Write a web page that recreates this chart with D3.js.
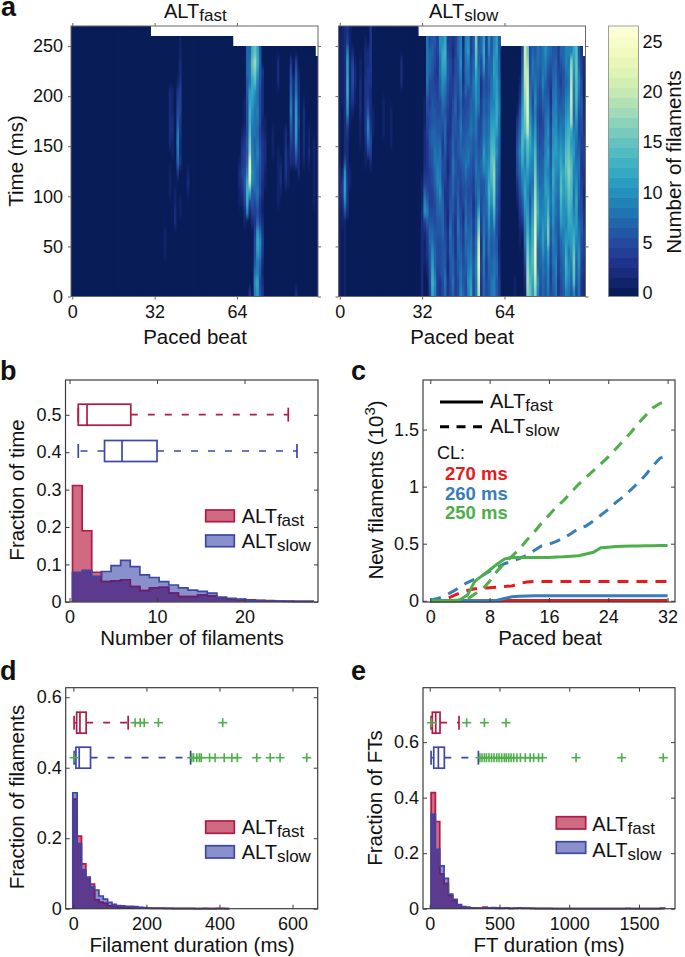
<!DOCTYPE html>
<html><head><meta charset="utf-8">
<script src="https://cdnjs.cloudflare.com/ajax/libs/d3/7.8.5/d3.min.js"></script>
<style>
html,body{margin:0;padding:0;background:#fff}
svg{display:block}
text{font-family:"Liberation Sans",Arial,sans-serif;fill:#111}
</style></head><body>
<svg id="c" width="685" height="957"></svg>
<script>
// ---------- data ----------
const beatTicks=[0,32,64];
const timeTicks=[0,50,100,150,200,250];
const colorTicks=[0,5,10,15,20,25];
const topLimits=[[30,270],[62,260],[94,250],[95,240]];
// Heatmap columns: base-36 counts, bottom row (t=0) first, 10 ms per character
const fastColumns=[
[36,"000011100"],[38,"00000000001110022222200"],[39,"000000000000001122111"],
[40,"0000000221100000"],[41,"0000000000003789865431"],[42,"0000000011000322334443221111"],
[45,"00000000001210"],[65,"000000000112210"],[66,"00000000012343321000"],
[67,"00000001245654432111000"],[68,"000000009cdc97665555667776"],
[69,"3000000025cknmhgeddcb8887"],[70,"000000024669a99889abccefd"],
[71,"9a865543457888778889aegif"],[72,"bc99bcb757877898789889bdc"],
[73,"65679a8433555665455556676"],[74,"32123432112233332122223"],
[75,"0000000000011222110000000"],[78,"00000000000000111"],
[80,"000000000111111000000222"],[81,"00000000001221"],[83,"00000000000233322"],
[84,"0000000000011110"],[85,"000000000000023467987653"],[86,"0000000000000223333322"],
[87,"200000000000047abbba8764"],[88,"00000000000022333433221"],[90,"00000000000001222221"],
[92,"00000000000001211"],[94,"0000000001111111"]];
const slowColumns=[
"111111111222211111111111111","000000011233100000011111111","11111111" +"59bba5"+"2222222222222",
"00000000"+"233322"+"223"+"6abccbb943","000000000001100001122222111","000000000000000000134554200",
"000000000000000000011221000","0","000000000000000111222211000","0","000000000000011233333322210",
"00000000000000"+"47996"+"43332200","0000000000000"+"24543"+"222333333","000000000000000011100000000",
"0","0","0","000000000000000011110","0","0","000000000000000111100","0","0","0",
"000000000000000000000222","0","0","0","0","0","0","0",
"22222222211100000000000000","00011124a97432222111000000","00123346975433334455788888",
"45566776544445566554557775","cdcba876544556677666556676","9a877665556778877665544556",
"44455566778998776655443344","3355556678a98887665577889a","556666777765554456789abcca",
"7876655443345567776789bcdc","33223332233322333445566654","55667787665544443333445544",
"78776655667788776655443323","44443333445566556677665544","55667788776655665544556677",
"98877665544556778877889a99","76655443355667766554433332","55667788776688776655778899",
"9a9887766556688776655889ba","cba98877665566778877665544","55665544334455667777887766",
"8899887766778877889aabcefg","jklmlkhfc98776655578888776","33443344556677665544335577",
"7788998877669ab98877669bcb","55445566778899887766555544","6677889abcdcba99887766779a",
"887766778abdefedcba9887766","9988778bdfghhgedcba9aabba9","66776655667788a9bcccbbaabb",
"44332233445566778899887766","0","0","0","0","0","11","0000000001235565431",
"0000011234567898765321","000000135689acdedcba98765","12356889abcba9abefghijkkl",
"hiihgfdcba9abdefjlmmmlkig","fedcba9876789abccba987655","bcdeeddcba9899a9876567887",
"hjlmnnmlkjihgfecba9a98776","9a8778abcba98776655667788","5667788998877665544556677",
"7788abba99887766556789888","6677889aaabbaa9988776789a","899abfgfdcba9ab9a98765678",
"5445566778877665544334567","6778899aabbccbbaa99887766","889988778899aabbaa9988776",
"3344556677889aa9877665544","5566779bcdeedcba987654567","6778899aaabbcaa9887766677",
"9bcdcba9abcdefedcba987899","89a98abcdefghgfedcba98989","6789abbccdeefecbcijkkjih9",
"9efgfdca98899aba987889abc","567789abbcba98789acdeeffe","889aa98766778876556789876",
"3344556655443344556655443","223344433223344433221122"];
const colorLevels=d3.range(0,27);

// panel b
const countTicksX=[0,10,20], countTicksY=[0,.1,.2,.3,.4,.5];
const countFast=[.311,.19,.079,.054,.056,.059,.041,.03,.037,.039,.023,.014,.014,.018,.016,.012,.008,.006,.005,.004,.003,.002,.002,.001,.001];
const countSlow=[.079,.084,.068,.081,.097,.111,.094,.072,.065,.054,.045,.037,.031,.028,.023,.012,.009,.007,.004,.003,.002,.002,.001,.001,.001];
const countBoxFast=[1,1,2,7,25], countBoxSlow=[1,4,6,10,26];

// panel c
const beatC=[0,1,2,3,4,5,6,7,8,9,10,11,12,13,14,15,16,17,18,19,20,21,22,23,24,25,26,27,28,29,30,31,32];
const fast270=[0,0,0,0,0,0,0,0,0,.001,.002,.002,.003,.003,.003,.003,.003,.003,.003,.003,.003,.003,.003,.003,.003,.003,.003,.003,.003,.003,.003,.003,.003];
const fast260=[0,0,0,0,0,0,0,0,0,.005,.02,.035,.04,.043,.045,.045,.045,.045,.045,.045,.045,.045,.045,.045,.045,.045,.045,.045,.045,.045,.045,.045,.045];
const fast250=[0,0,0,0,.01,.05,.17,.22,.27,.32,.365,.38,.38,.38,.38,.38,.38,.383,.385,.39,.395,.41,.425,.465,.47,.475,.478,.48,.48,.482,.483,.484,.485];
const slow270=[0,0,.01,.04,.07,.09,.105,.11,.115,.118,.125,.13,.15,.165,.17,.17,.17,.17,.17,.17,.17,.17,.17,.17,.17,.17,.17,.17,.17,.17,.17,.17,.17];
const slow260=[.005,.02,.045,.08,.12,.16,.19,.22,.26,.29,.325,.345,.37,.4,.44,.48,.495,.52,.55,.59,.635,.655,.7,.75,.8,.86,.91,.97,1.03,1.1,1.18,1.25,1.27];
const slow250=[0,0,0,0,0,.015,.06,.1,.17,.26,.33,.39,.45,.53,.6,.68,.75,.82,.88,.95,1.02,1.08,1.14,1.2,1.26,1.33,1.4,1.47,1.55,1.62,1.69,1.73,1.75];
const newTicksX=[0,8,16,24,32], newTicksY=[0,.5,1,1.5];

// panel d
const filTicksX=[0,200,400,600], filTicksY=[0,.2,.4,.6];
const filFast=[.31,.206,.127,.09,.07,.025,.018,.015,.008,.007,.005,.004,.003,.002,.002,.003,.002,.002,.001,.001,.001,.001,.001,0,0,0,0,0,0,0,0,0,0,.001,.001,0];
const filSlow=[.329,.185,.11,.086,.062,.053,.036,.027,.018,.012,.009,.008,.007,.007,.006,.004,.003,.002,.002,.002,.002,.001,.001,.001,.001,.001,.001,.001,0,0,.001,0,0,0,0,0];
const filBoxFast=[2,9,18,35,150], filBoxSlow=[2,7,16,47,321];
const filOutFast=[169,183,194,233,409];
const filOutSlow=[2,324,329,338,345,350,373,388,413,434,449,502,539,566,639];

// panel e
const ftTicksX=[0,500,1000,1500], ftTicksY=[0,.2,.4,.6];
const ftFast=[.418,.314,.125,.09,.048,.03,.015,.008,.006,.003,.002,.002,.006,.002,.002,.001,.001,.003,.001,.001,.003,.001,.001,.001,0,0,0,0,0,0,0,0,0,0,0,0,0,0,0,0,0,0,0,0,0,0,0,0,0,0,0,0,0,0];
const ftSlow=[.341,.214,.154,.109,.053,.034,.013,.006,.003,.003,.002,.002,.002,.003,.004,.003,.002,.002,.001,.002,.002,.002,.002,.001,.001,.001,.001,.001,0,0,0,0,0,0,0,0,0,0,0,0,0,0,0,0,0,.001,0,0,0,0,0,0,0,.002];
const ftBoxFast=[10,19,43,74,210], ftBoxSlow=[10,29,62,105,349];
const ftOutFast=[14,265,392,547];
const ftOutSlow=[360,375,392,407,425,443,461,480,497,516,535,549,566,583,602,625,650,685,720,745,780,808,1049,1376,1674];

const RED="#b01a45", BLUE="#3d47a5", GREEN="#4daf4a";
const LR="#e41a1c", LB="#377eb8";
const FASTFILL="#cf6a82", SLOWFILL="#8a90cc", OVER="#5c3a8e", DARKRED="#5a2578";
const FRAME="#3c3c3c";

// ---------- helpers ----------
const svg=d3.select("#c");
const defs=svg.append("defs");
const TICK=18, LABEL=20.5;
let uid=0;
const heatColor=v=>d3.interpolateYlGnBu(1-v/26*.985);

function altText(g,x,y,kind,fs,anchor){
  const t=g.append("text").attr("x",x).attr("y",y).attr("font-size",fs||20).attr("text-anchor",anchor||"start");
  t.append("tspan").text("ALT");
  t.append("tspan").attr("dy",3).attr("font-size",(fs||20)*.85).text(kind);
  return t;
}
function frame(x0,x1,y0,y1,color,w){
  svg.append("rect").attr("x",x0).attr("y",y0).attr("width",x1-x0).attr("height",y1-y0)
    .attr("fill","none").attr("stroke",color||FRAME).attr("stroke-width",w||1.2);
}
function axes(x,y,xt,yt,opt){
  opt=opt||{};
  const inner=opt.tick===undefined?-4:opt.tick, col=opt.color||FRAME;
  const x0=x.range()[0],x1=x.range()[1],y0=y.range()[1],y1=y.range()[0];
  const style=(g,fs)=>{g.select(".domain").remove();g.selectAll("line").attr("stroke",col).attr("stroke-width",1);
    g.selectAll("text").attr("font-size",fs).attr("font-family",'"Liberation Sans",Arial,sans-serif').attr("fill","#111");};
  svg.append("g").attr("transform",`translate(0,${y1})`)
    .call(d3.axisBottom(x).tickValues(xt).tickSize(inner).tickPadding(opt.padB===undefined?8.5:opt.padB).tickFormat(d=>d))
    .call(g=>style(g,TICK));
  svg.append("g").attr("transform",`translate(0,${y0})`)
    .call(d3.axisTop(x).tickValues(xt).tickSize(inner).tickFormat(""))
    .call(g=>style(g,TICK));
  if(!opt.noY) svg.append("g").attr("transform",`translate(${x0},0)`)
    .call(d3.axisLeft(y).tickValues(yt).tickSize(inner).tickPadding(opt.padL===undefined?4:opt.padL).tickFormat(d=>d))
    .call(g=>style(g,TICK));
  else svg.append("g").attr("transform",`translate(${x0},0)`)
    .call(d3.axisLeft(y).tickValues(yt).tickSize(inner).tickFormat(""))
    .call(g=>style(g,TICK));
  svg.append("g").attr("transform",`translate(${x1},0)`)
    .call(d3.axisRight(y).tickValues(yt).tickSize(inner).tickFormat(""))
    .call(g=>style(g,TICK));
}
function xLabel(t,x,y){svg.append("text").attr("x",x).attr("y",y).attr("text-anchor","middle").attr("font-size",LABEL).text(t);}
function yLabel(t,x,y){return svg.append("text").attr("transform",`translate(${x},${y}) rotate(-90)`).attr("text-anchor","middle").attr("font-size",LABEL).text(t);}
function panel(t,x,y){svg.append("text").attr("x",x).attr("y",y).attr("font-size",27).attr("font-weight","bold").text(t);}

function heat(columnValue,x,y,yBottom){
  const id="h"+(++uid);
  const limit=c=>topLimits.find(l=>c<=l[0])[1];
  const cells=[];
  d3.range(96).forEach(c=>{
    const s=columnValue(c);
    d3.range(limit(c)/10).forEach(r=>{
      const ch=s[r]||"0";
      cells.push({c,r,v:parseInt(ch,36)});
    });
  });
  const outline=d3.area().x(c=>x(c-.5)).y0(yBottom).y1(c=>y(limit(Math.min(c,95)))).curve(d3.curveStepAfter);
  defs.append("clipPath").attr("id",id).append("path").attr("d",outline(d3.range(97)));
  const draw=g=>g.selectAll("rect").data(cells).join("rect")
    .attr("x",d=>x(d.c-.5)).attr("width",d=>x(d.c+.5)-x(d.c-.5)+1)
    .attr("y",d=>y((d.r+1)*10)).attr("height",d=>y(d.r*10)-y((d.r+1)*10)+1)
    .attr("fill",d=>heatColor(d.v));
  const wrap=svg.append("g").attr("clip-path",`url(#${id})`);
  wrap.append("rect").attr("x",x.range()[0]).attr("y",y.range()[1]).attr("width",x.range()[1]-x.range()[0]).attr("height",yBottom-y.range()[1]).attr("fill",heatColor(0));
  wrap.append("g").call(draw);
  wrap.append("g").attr("filter","url(#blur)").call(draw);
}
const f=defs.append("filter").attr("id","blur").attr("x","-5%").attr("y","-5%").attr("width","110%").attr("height","110%")
  .attr("color-interpolation-filters","sRGB");
f.append("feGaussianBlur").attr("stdDeviation","0.45 3.2");

function hist(x,y,start,w,fast,slow){
  const edges=a=>a.map((v,i)=>({e:start+i*w,v})).concat([{e:start+a.length*w,v:0}]);
  const area=d3.area().x(d=>x(d.e)).y0(y(0)).y1(d=>y(d.v)).curve(d3.curveStepAfter);
  const line=d3.line().x(d=>x(d.e)).y(d=>y(d.v)).curve(d3.curveStepAfter);
  const over=fast.map((v,i)=>Math.min(v,slow[i]));
  const id="s"+(++uid);
  defs.append("clipPath").attr("id",id).append("path").attr("d",area(edges(slow)));
  const g=svg.append("g");
  const outline=a=>[{e:start,v:0},...edges(a)];
  g.append("path").attr("d",area(edges(fast))).attr("fill",FASTFILL);
  g.append("path").attr("d",area(edges(slow))).attr("fill",SLOWFILL);
  g.append("path").attr("d",area(edges(over))).attr("fill",OVER);
  g.append("path").attr("d",line(outline(fast))).attr("fill","none").attr("stroke",RED).attr("stroke-width",1.7);
  g.append("path").attr("d",line(outline(fast))).attr("fill","none").attr("stroke",DARKRED).attr("stroke-width",1.7).attr("clip-path",`url(#${id})`);
  g.append("path").attr("d",line(outline(slow))).attr("fill","none").attr("stroke",BLUE).attr("stroke-width",1.7);
}
function box(x,yPx,st,color,out){
  const [lo,q1,med,q3,hi]=st, h=10.5, g=svg.append("g").attr("stroke",color).attr("fill","none").attr("stroke-width",1.7);
  const l=(a,b,c,d)=>g.append("line").attr("x1",a).attr("x2",b).attr("y1",c).attr("y2",d);
  if(q3<hi) l(x(q3),x(hi),yPx,yPx).attr("stroke-dasharray","7,10");
  if(lo<q1) l(x(q1),x(lo),yPx,yPx).attr("stroke-dasharray","7,10");
  l(x(lo),x(lo),yPx-7,yPx+7); l(x(hi),x(hi),yPx-7,yPx+7);
  g.append("rect").attr("x",x(q1)).attr("width",x(q3)-x(q1)).attr("y",yPx-h).attr("height",2*h);
  l(x(med),x(med),yPx-h,yPx+h);
  if(out){
    const p=svg.append("g").attr("stroke",GREEN).attr("stroke-width",1.6);
    out.forEach(v=>{
      p.append("line").attr("x1",x(v)-4.5).attr("x2",x(v)+4.5).attr("y1",yPx).attr("y2",yPx);
      p.append("line").attr("x1",x(v)).attr("x2",x(v)).attr("y1",yPx-4.5).attr("y2",yPx+4.5);
    });
  }
}
function swatches(x0,x1,a,b,c,d,tx,t1,t2){
  svg.append("rect").attr("x",x0).attr("width",x1-x0).attr("y",a).attr("height",b-a).attr("fill",FASTFILL).attr("stroke",RED).attr("stroke-width",1.7);
  svg.append("rect").attr("x",x0).attr("width",x1-x0).attr("y",c).attr("height",d-c).attr("fill",SLOWFILL).attr("stroke",BLUE).attr("stroke-width",1.7);
  altText(svg,tx,t1,"fast");altText(svg,tx,t2,"slow");
}

// ---------- panel a ----------
const yHeat=d3.scaleLinear().domain([0,270]).range([296.5,26]);
const xHeatL=d3.scaleLinear().domain([-.5,95.5]).range([71,318]);
const xHeatR=d3.scaleLinear().domain([-.5,95.5]).range([338.5,585.5]);
const fastMap=new Map(fastColumns);
heat(c=>fastMap.get(c)||"0",xHeatL,yHeat,296.5);
heat(c=>slowColumns[c]||"0",xHeatR,yHeat,296.5);
axes(xHeatL,yHeat,beatTicks,timeTicks,{tick:3,color:"#666",padB:6,padL:5});
frame(71,318,26,296.5,"#666",1);
axes(xHeatR,yHeat,beatTicks,timeTicks,{tick:3,color:"#666",noY:true,padB:6});
frame(338.5,585.5,26,296.5,"#666",1);
altText(svg,164,18,"fast",20);
altText(svg,429,18,"slow",20);
xLabel("Paced beat",195,344);xLabel("Paced beat",462,344);
yLabel("Time (ms)",23,161);
// colorbar
const yBar=d3.scaleLinear().domain([-.4,26.6]).range([296.5,26]);
svg.append("g").selectAll("rect").data(colorLevels).join("rect")
  .attr("x",608.5).attr("width",30)
  .attr("y",d=>yBar(d+.5)).attr("height",d=>Math.min(yBar(d-.5)-yBar(d+.5)+.6,296.5-yBar(d+.5)))
  .attr("fill",d=>heatColor(d));
svg.append("g").attr("transform","translate(638.5,0)")
  .call(d3.axisRight(yBar).tickValues(colorTicks).tickSize(0).tickPadding(4).tickFormat(d=>d))
  .call(g=>{g.select(".domain").remove();g.selectAll("text").attr("font-size",TICK).attr("fill","#111").attr("font-family",'"Liberation Sans",Arial,sans-serif');});
frame(608.5,638.5,26,296.5,"#888",.8);
yLabel("Number of filaments",680.5,162);

// ---------- panel b ----------
const xB=d3.scaleLinear().domain([-.46,28.4]).range([65.5,318]);
const yB=d3.scaleLinear().domain([-.0005,.593]).range([602,380]);
hist(xB,yB,.34,1.1,countFast,countSlow);
box(xB,414.7,countBoxFast,RED);
box(xB,451,countBoxSlow,BLUE);
axes(xB,yB,countTicksX,countTicksY);
frame(65.5,318,380,602);
swatches(205.7,234.3,510,521.7,535,546.7,241.7,523,548);
xLabel("Number of filaments",192,645);
yLabel("Fraction of time",24,490);

// ---------- panel c ----------
const xC=d3.scaleLinear().domain([-.98,33]).range([423,675]);
const yC=d3.scaleLinear().domain([-.0105,1.934]).range([602,380]);
const lineC=d3.line().x((d,i)=>xC(beatC[i])).y(d=>yC(d));
[[fast270,LR,0],[slow270,LR,1],[slow260,LB,1],[slow250,GREEN,1],[fast260,LB,0],[fast250,GREEN,0]].forEach(([s,c,dash])=>{
  svg.append("path").attr("d",lineC(s)).attr("fill","none").attr("stroke",c).attr("stroke-width",3)
    .attr("stroke-dasharray",dash?"11,8":null);
});
axes(xC,yC,newTicksX,newTicksY);
frame(423,675,380,602);
svg.append("line").attr("x1",440).attr("x2",483).attr("y1",402).attr("y2",402).attr("stroke","#000").attr("stroke-width",3);
svg.append("line").attr("x1",440).attr("x2",484).attr("y1",426.7).attr("y2",426.7).attr("stroke","#000").attr("stroke-width",3).attr("stroke-dasharray","9,7.5");
altText(svg,490,407.5,"fast");altText(svg,490,433,"slow");
svg.append("text").attr("x",437).attr("y",459).attr("font-size",18).text("CL:");
[["270 ms",LR,480],["260 ms",LB,499.5],["250 ms",GREEN,519]].forEach(([t,c,y])=>{
  svg.append("text").attr("x",445).attr("y",y).attr("font-size",18.5).attr("font-weight","bold").style("fill",c).text(t);
});
xLabel("Paced beat",550,645);
{const t=yLabel("New filaments (10",383,490);
 t.append("tspan").attr("font-size",15).attr("dy",-8).text("3");
 t.append("tspan").attr("dy",8).text(")");}

// ---------- panel d ----------
const xD=d3.scaleLinear().domain([-21,669]).range([65.7,317.7]);
const yD=d3.scaleLinear().domain([0,.627]).range([908.7,687.7]);
hist(xD,yD,-1.5,11.9,filFast,filSlow);
box(xD,722.7,filBoxFast,RED,filOutFast);
box(xD,757.7,filBoxSlow,BLUE,filOutSlow);
axes(xD,yD,filTicksX,filTicksY,{padB:8.5});
frame(65.7,317.7,687.7,908.7);
swatches(205.7,234.3,821,833.3,845.7,858,241.7,834,859);
xLabel("Filament duration (ms)",192,952);
yLabel("Fraction of filaments",24,797);

// ---------- panel e ----------
const xE=d3.scaleLinear().domain([-48,1758]).range([423,675]);
const yE=d3.scaleLinear().domain([0,.796]).range([908.7,687.7]);
hist(xE,yE,10,31,ftFast,ftSlow);
box(xE,722.7,ftBoxFast,RED,ftOutFast);
box(xE,757.7,ftBoxSlow,BLUE,ftOutSlow);
axes(xE,yE,ftTicksX,ftTicksY,{padB:8.5});
frame(423,675,687.7,908.7);
swatches(556.3,585.7,816.7,829,841.7,853.3,592.3,830.7,856.7);
xLabel("FT duration (ms)",549,952);
yLabel("Fraction of FTs",382,798);

// panel letters
panel("a",1,16);panel("b",0,380);panel("c",351,380);panel("d",0,680);panel("e",351,680);
</script>
</body></html>
